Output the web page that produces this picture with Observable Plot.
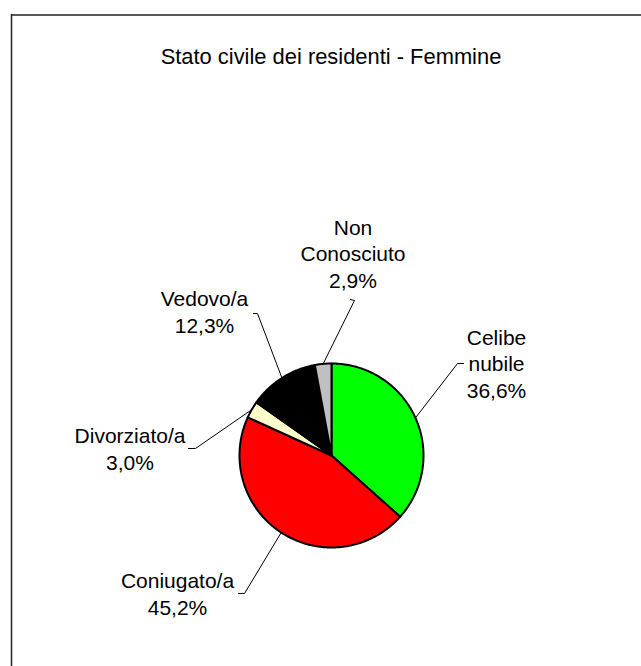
<!DOCTYPE html>
<html>
<head>
<meta charset="utf-8">
<script src="https://cdn.jsdelivr.net/npm/d3@7"></script>
<script src="https://cdn.jsdelivr.net/npm/@observablehq/plot@0.6"></script>
<style>
  html, body { margin: 0; padding: 0; background: #fff; }
  #chart svg { display: block; font-family: "Liberation Sans", Arial, sans-serif; }
</style>
</head>
<body>
<div id="chart"></div>
<script>
// ---- data ----
const title = "Stato civile dei residenti - Femmine";
const categories = ["Celibe\nnubile", "Coniugato/a", "Divorziato/a", "Vedovo/a", "Non\nConosciuto"];
const values = [36.6, 45.2, 3.0, 12.3, 2.9];
const colors = ["#00FF00", "#FF0000", "#FFFFCC", "#000000", "#C0C0C0"];

// ---- layout ----
const W = 641, H = 666;
const pieCenter = [331, 455];
const pieRadius = 92;
const labelAnchors = [[496, 397], [177, 614], [129.5, 469], [204, 332], [352.5, 287]]; // center x, last baseline
const leaderStarts = [[463, 363], [238, 593], [188, 448], [253, 313], [350, 299]];
const leaderElbows = [[457, 363], [244, 593], [195, 448], [257, 313], [354, 300]];

const fmt = v => v.toFixed(1).replace(".", ",") + "%";

const arcs = d3.pie().sort(null).value(d => d)(values);
const [cx, cy] = pieCenter;
const pt = (a, r) => [cx + r * Math.sin(a), cy - r * Math.cos(a)];

// slice polygons
const slicePts = [];
arcs.forEach((a, i) => {
  const n = Math.max(2, Math.ceil((a.endAngle - a.startAngle) / 0.01));
  slicePts.push({k: i, x: cx, y: cy, c: colors[i]});
  for (let j = 0; j <= n; j++) {
    const t = a.startAngle + (a.endAngle - a.startAngle) * j / n;
    const [x, y] = pt(t, pieRadius);
    slicePts.push({k: i, x, y, c: colors[i]});
  }
  slicePts.push({k: i, x: cx, y: cy, c: colors[i]});
});

// leader lines
const leaderPts = [];
arcs.forEach((a, i) => {
  const mid = (a.startAngle + a.endAngle) / 2;
  const [ex, ey] = pt(mid, pieRadius);
  leaderPts.push({k: i, x: leaderStarts[i][0], y: leaderStarts[i][1]});
  leaderPts.push({k: i, x: leaderElbows[i][0], y: leaderElbows[i][1]});
  leaderPts.push({k: i, x: ex, y: ey});
});

const labels = categories.map((c, i) => ({
  text: c + "\n" + fmt(values[i]),
  x: labelAnchors[i][0],
  y: labelAnchors[i][1]
}));

const chart = Plot.plot({
  width: W,
  height: H,
  margin: 0,
  x: {domain: [0, W], range: [0, W], axis: null},
  y: {domain: [0, H], range: [0, H], axis: null},
  color: {type: "identity"},
  style: {fontFamily: "'Liberation Sans', Arial, sans-serif", background: "#fff"},
  marks: [
    Plot.ruleY([14.5], {x1: 11, x2: W, stroke: "#222", strokeWidth: 1.5}),
    Plot.ruleX([11], {y1: 14, y2: H, stroke: "#222", strokeWidth: 1.5}),
    Plot.text([title], {x: () => 330.5, y: () => 63, text: d => d, fontSize: 21.9, lineAnchor: "bottom", fill: "#000"}),
    Plot.line(leaderPts, {x: "x", y: "y", z: "k", stroke: "#000", strokeWidth: 1, curve: "linear"}),
    Plot.line(slicePts, {x: "x", y: "y", z: "k", fill: "c", stroke: "#000", strokeWidth: 2, strokeLinejoin: "round", curve: "linear"}),
    Plot.text(labels, {x: "x", y: "y", text: "text", fontSize: 21, lineAnchor: "bottom", lineHeight: 1.26, fill: "#000"})
  ]
});

document.getElementById("chart").appendChild(chart);
</script>
</body>
</html>
